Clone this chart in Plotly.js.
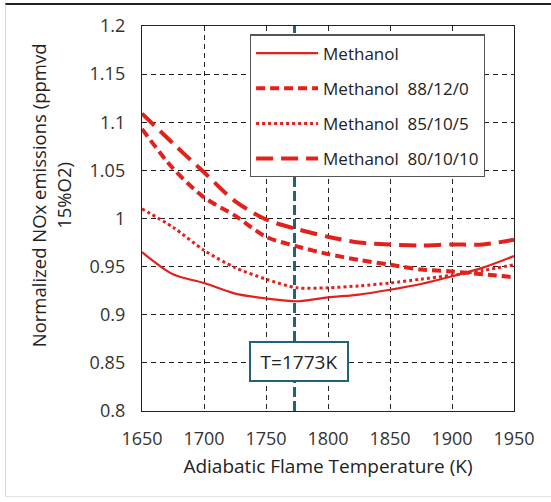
<!DOCTYPE html>
<html>
<head>
<meta charset="utf-8">
<script src="https://cdn.plot.ly/plotly-3.0.1.min.js"></script>
<style>
  html, body { margin: 0; padding: 0; background: #ffffff; }
  #frame {
    position: absolute; left: 5px; top: 3px; width: 546px; height: 494px;
    border-top: 2px solid #222; border-left: 1px solid #d8d8d8; border-bottom: 1px solid #e4e4e4;
    box-sizing: border-box; pointer-events: none; z-index: 5;
  }
  #chart { width: 551px; height: 502px; }
</style>
</head>
<body>
<div id="frame"></div>
<div id="chart"></div>
<script>
// Adiabatic flame temperature (K)
const temperature = [1650, 1675, 1700, 1725, 1750, 1775, 1800, 1825, 1850, 1875, 1900, 1925, 1950];

// Normalized NOx emissions, ppmvd at 15% O2
const methanol       = [0.965, 0.942, 0.933, 0.922, 0.917, 0.914, 0.918, 0.921, 0.926, 0.932, 0.940, 0.949, 0.961];
const methanol881200 = [1.093, 1.052, 1.022, 1.003, 0.981, 0.971, 0.963, 0.957, 0.952, 0.947, 0.945, 0.942, 0.939];
const methanol851005 = [1.010, 0.991, 0.967, 0.949, 0.937, 0.928, 0.928, 0.930, 0.933, 0.937, 0.941, 0.946, 0.952];
const methanol801010 = [1.109, 1.078, 1.048, 1.018, 0.999, 0.989, 0.981, 0.975, 0.973, 0.972, 0.973, 0.973, 0.978];

const seriesNames = ['Methanol', 'Methanol\u00a0 88/12/0', 'Methanol\u00a0 85/10/5', 'Methanol\u00a0 80/10/10'];

const referenceTemperature = 1773;
const referenceLabel = 'T=1773K';

const xTickVals = [1650, 1700, 1750, 1800, 1850, 1900, 1950];
const xTickText = ['1650', '1700', '1750', '1800', '1850', '1900', '1950'];
const yTickVals = [0.8, 0.85, 0.9, 0.95, 1, 1.05, 1.1, 1.15, 1.2];
const yTickText = ['0.8', '0.85', '0.9', '0.95', '1', '1.05', '1.1', '1.15', '1.2'];

const red = '#e3201c';
const teal = '#22617a';
const font = 'Open Sans, Noto Sans, sans-serif';

function curve(y, name, width, dash, group) {
  return {
    x: temperature, y: y, name: name, type: 'scatter', mode: 'lines',
    legendgroup: group,
    line: { color: red, width: width, dash: dash, shape: 'spline', smoothing: 0.8 },
    hoverinfo: 'x+y+name'
  };
}

const data = [
  curve(methanol, seriesNames[0], 2.2, 'solid', 'g1'),
  curve(methanol881200, seriesNames[1], 4, '9px,5px', 'g2'),
  curve(methanol851005, seriesNames[2], 3, '3px,3px', 'g3'),
  curve(methanol801010, seriesNames[3], 4, '17px,8px', 'g4')
];

const layout = {
  width: 551, height: 502,
  margin: { l: 142, r: 37, t: 26, b: 91 },
  paper_bgcolor: '#ffffff', plot_bgcolor: '#ffffff',
  font: { family: font, size: 18, color: '#333' },
  showlegend: true,
  legend: {
    x: 0.29, y: 0.978, xanchor: 'left', yanchor: 'top',
    bgcolor: '#ffffff', bordercolor: '#555', borderwidth: 1.2,
    font: { family: font, size: 17, color: '#222' },
    traceorder: 'grouped', tracegroupgap: 10, itemwidth: 62
  },
  xaxis: {
    range: [1650, 1950], tickmode: 'array', tickvals: xTickVals, ticktext: xTickText,
    showline: true, mirror: true, linecolor: '#222', linewidth: 1.2,
    showgrid: true, gridcolor: '#222', gridwidth: 1, griddash: '5px,4px',
    zeroline: false, ticks: '', ticklabelstandoff: 11,
    tickfont: { family: font, size: 18, color: '#333' },
    title: { text: 'Adiabatic Flame Temperature (K)', font: { family: font, size: 19, color: '#222' }, standoff: 11 }
  },
  yaxis: {
    range: [0.8, 1.2], tickmode: 'array', tickvals: yTickVals, ticktext: yTickText,
    showline: true, mirror: true, linecolor: '#222', linewidth: 1.2,
    showgrid: true, gridcolor: '#222', gridwidth: 1, griddash: '5px,4px',
    zeroline: false, ticks: '', ticklabelstandoff: 12,
    tickfont: { family: font, size: 18, color: '#333' }
  },
  shapes: [
    {
      type: 'line', xref: 'x', yref: 'paper', x0: referenceTemperature, x1: referenceTemperature,
      y0: 0, y1: 1, line: { color: teal, width: 3, dash: '10px,4px' }, layer: 'above'
    }
  ],
  annotations: [
    {
      xref: 'x', yref: 'y', x: 1777, y: 0.851, text: referenceLabel, showarrow: false,
      font: { family: font, size: 19, color: '#222' },
      bgcolor: '#ffffff', bordercolor: teal, borderwidth: 2, borderpad: 0,
      width: 96, height: 37
    },
    {
      xref: 'paper', yref: 'paper', x: -0.245, y: 0.56, xanchor: 'center', yanchor: 'middle',
      textangle: -90, showarrow: false,
      text: 'Normalized NOx emissions (ppmvd<br>15%O2)',
      font: { family: font, size: 18.5, color: '#222' }
    }
  ]
};

Plotly.newPlot('chart', data, layout, { displayModeBar: false, staticPlot: true });
</script>
</body>
</html>
